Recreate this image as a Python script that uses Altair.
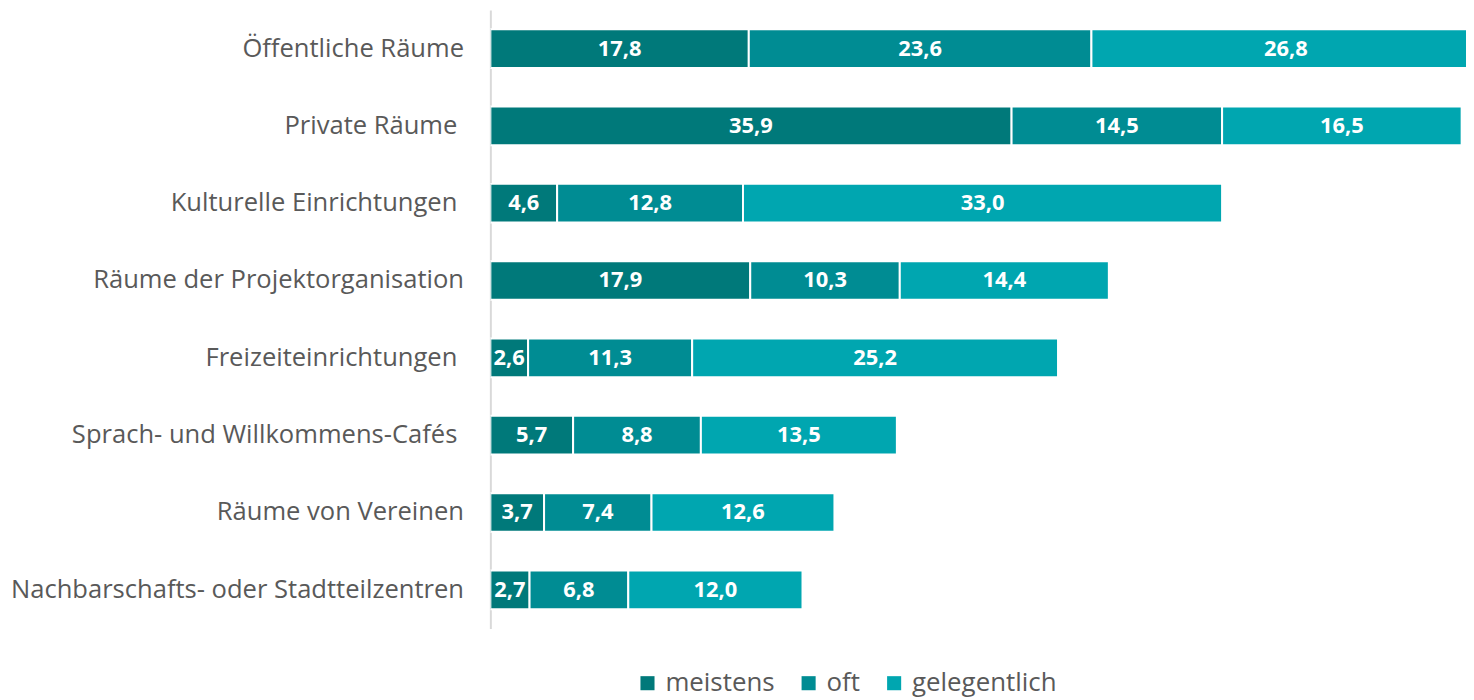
import altair as alt
import pandas as pd

SP = "\u00a0\u200b"  # trailing space kept as in the original labels
categories = [
    "Öffentliche Räume",
    "Private Räume" + SP,
    "Kulturelle Einrichtungen" + SP,
    "Räume der Projektorganisation",
    "Freizeiteinrichtungen" + SP,
    "Sprach- und Willkommens-Cafés" + SP,
    "Räume von Vereinen",
    "Nachbarschafts- oder Stadtteilzentren",
]
series = ["meistens", "oft", "gelegentlich"]
meistens = [17.8, 35.9, 4.6, 17.9, 2.6, 5.7, 3.7, 2.7]
oft = [23.6, 14.5, 12.8, 10.3, 11.3, 8.8, 7.4, 6.8]
gelegentlich = [26.8, 16.5, 33.0, 14.4, 25.2, 13.5, 12.6, 12.0]
colors = ["#00797A", "#008C93", "#00A6B0"]

rows = []
for i, cat in enumerate(categories):
    start = 0.0
    for s, vals in zip(series, [meistens, oft, gelegentlich]):
        v = vals[i]
        rows.append({
            "cat": cat, "series": s, "order": series.index(s),
            "start": start, "end": start + v, "mid": start + v / 2,
            "label": f"{v:.1f}".replace(".", ","),
        })
        start += v
df = pd.DataFrame(rows)

FONT = "Open Sans"
yenc = alt.Y(
    "cat:N", sort=categories,
    scale=alt.Scale(paddingInner=0.5, paddingOuter=0.25),
    axis=alt.Axis(title=None, ticks=False, domainColor="#D9D9D9", domainWidth=2,
                  labelFontSize=25.7, labelColor="#595959", labelFont=FONT,
                  labelPadding=27, labelLimit=700),
)
xscale = alt.Scale(domain=[0, 67.2], nice=False, zero=True)

base = alt.Chart(df)
bars = base.mark_bar(clip=True, stroke="white", strokeWidth=2).encode(
    y=yenc,
    x=alt.X("start:Q", scale=xscale, axis=None),
    x2="end:Q",
    color=alt.Color(
        "series:N", sort=series,
        scale=alt.Scale(domain=series, range=colors),
        legend=alt.Legend(
            title=None, orient="none", direction="horizontal",
            legendX=145, legendY=664, symbolType="square", symbolSize=200,
            symbolStrokeWidth=0, labelFontSize=26, labelColor="#595959",
            labelFont=FONT, columnPadding=21, labelOffset=5,
        ),
    ),
    order="order:Q",
)
texts = base.mark_text(color="white", fontWeight="bold", fontSize=22, font=FONT).encode(
    y=yenc,
    x=alt.X("mid:Q", scale=xscale, axis=None),
    text="label:N",
)

chart = (bars + texts).properties(
    width=981, height=622,
    background="white",
    autosize=alt.AutoSizeParams(type="none"),
    padding={"left": 485, "top": 0, "right": 0, "bottom": 72},
).configure_view(stroke=None)

chart.save("out.html", embed_options={"renderer": "svg", "actions": False})
